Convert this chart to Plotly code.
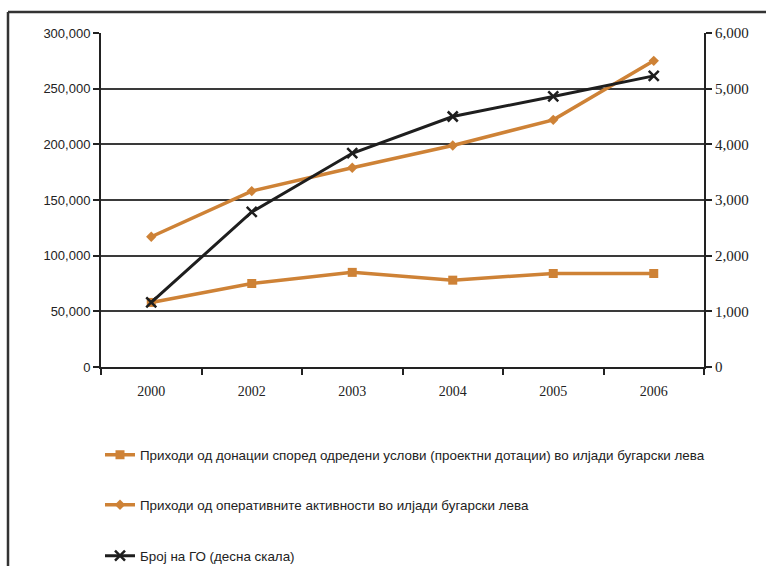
import plotly.graph_objects as go

# Years on the category axis
years = ["2000", "2002", "2003", "2004", "2005", "2006"]

# Income from grants (project subsidies), thousand BGN - left axis
grant_income = [58000, 75000, 85000, 78000, 84000, 84000]

# Income from operating activities, thousand BGN - left axis
operating_income = [117000, 158000, 179000, 199000, 222000, 275000]

# Number of NGOs - right axis
ngo_count = [1160, 2785, 3840, 4500, 4860, 5230]

left_ticks = [0, 50000, 100000, 150000, 200000, 250000, 300000]
right_ticks = [0, 1000, 2000, 3000, 4000, 5000, 6000]

names = [
    "Приходи од донации според одредени услови (проектни дотации) во илјади бугарски лева",
    "Приходи од оперативните активности во илјади бугарски лева",
    "Број на ГО (десна скала)",
]

ORANGE = "#CE8236"
DARK = "#1E1E1E"
SANS = "Liberation Sans, Arial, sans-serif"
SERIF = "Liberation Serif, Times New Roman, serif"

fig = go.Figure()

fig.add_trace(go.Scatter(
    x=years, y=grant_income, name=names[0], mode="lines+markers",
    line=dict(color=ORANGE, width=3.5),
    marker=dict(symbol="square", size=9, color=ORANGE),
    legend="legend",
))
fig.add_trace(go.Scatter(
    x=years, y=operating_income, name=names[1], mode="lines+markers",
    line=dict(color=ORANGE, width=3.5),
    marker=dict(symbol="diamond", size=8, color=ORANGE),
    legend="legend2",
))
fig.add_trace(go.Scatter(
    x=years, y=ngo_count, name=names[2], mode="lines+markers",
    line=dict(color=DARK, width=3),
    marker=dict(symbol="x-thin", size=10, line=dict(color=DARK, width=2.5)),
    yaxis="y2", legend="legend3",
))

# plot area in pixels: x 101..704, y 33..367
W, H = 766, 566
L, R, T, B = 101, 62, 33, 199
pw, ph = W - L - R, H - T - B


def px_x(px):
    return (px - L) / pw


def px_y(py):
    return (H - B - py) / ph


legend_common = dict(
    font=dict(family=SANS, size=13.4, color="#222"),
    bgcolor="rgba(0,0,0,0)", borderwidth=0,
    xanchor="left", yanchor="middle", itemwidth=30,
)

frame = dict(color="#333", width=2.5)

fig.update_layout(
    width=W, height=H,
    margin=dict(l=L, r=R, t=T, b=B, autoexpand=False),
    paper_bgcolor="white", plot_bgcolor="white",
    showlegend=True,
    legend=dict(x=px_x(100), y=px_y(455), **legend_common),
    legend2=dict(x=px_x(100), y=px_y(505), **legend_common),
    legend3=dict(x=px_x(100), y=px_y(556), **legend_common),
    xaxis=dict(
        type="category", categoryorder="array", categoryarray=years,
        range=[-0.5, len(years) - 0.5],
        showline=True, linecolor="#222", linewidth=2,
        ticks="outside", ticklen=6, tickwidth=1.5, tickcolor="#222",
        tickson="boundaries", showgrid=False,
        tickfont=dict(family=SERIF, size=14, color="#222"),
        ticklabelstandoff=10,
    ),
    yaxis=dict(
        range=[0, 300000], tickvals=left_ticks, tickformat=",",
        showline=True, linecolor="#222", linewidth=2,
        ticks="outside", ticklen=6, tickwidth=1.5, tickcolor="#222",
        showgrid=True, gridcolor="#3a3a3a", gridwidth=1.5,
        zeroline=False,
        tickfont=dict(family=SANS, size=13, color="#222"),
    ),
    yaxis2=dict(
        range=[0, 6000], tickvals=right_ticks, tickformat=",",
        overlaying="y", side="right",
        showline=True, linecolor="#222", linewidth=2,
        ticks="outside", ticklen=6, tickwidth=1.5, tickcolor="#222",
        showgrid=False, zeroline=False,
        tickfont=dict(family=SERIF, size=15, color="#222"),
    ),
    shapes=[
        # outer frame: top and left edges
        dict(type="line", xref="paper", yref="paper", layer="above",
             x0=px_x(8), x1=px_x(766), y0=px_y(12), y1=px_y(12), line=frame),
        dict(type="line", xref="paper", yref="paper", layer="above",
             x0=px_x(8), x1=px_x(8), y0=px_y(12), y1=px_y(566), line=frame),
    ],
)

fig.write_html("out.html")
